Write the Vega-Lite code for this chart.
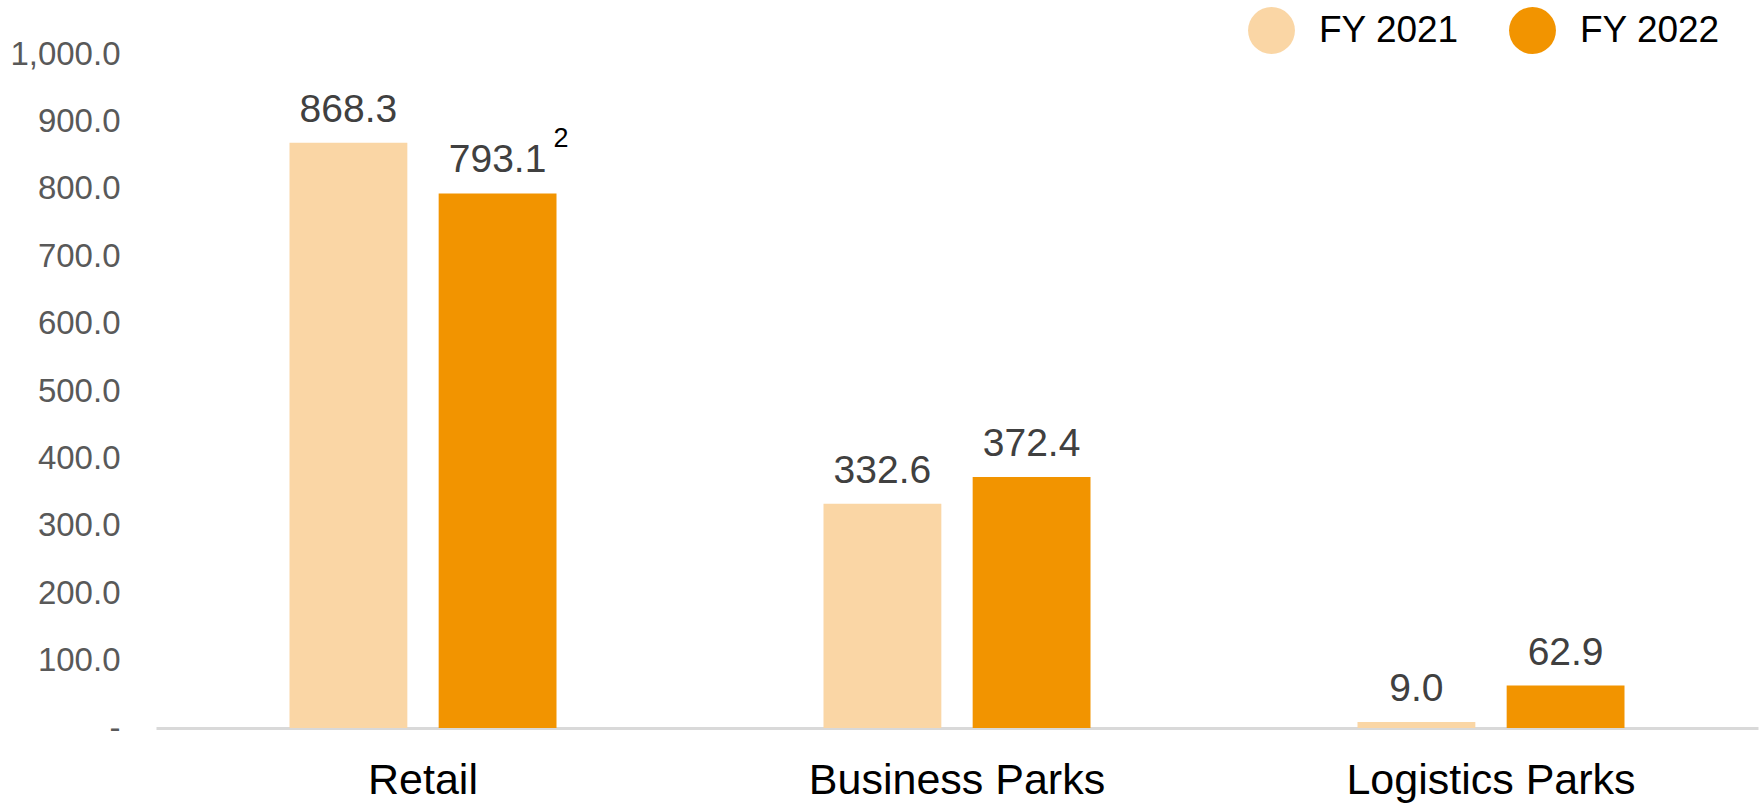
{
  "$schema": "https://vega.github.io/schema/vega-lite/v6.json",
  "width": 1602,
  "height": 674,
  "autosize": {"type": "none"},
  "padding": {"left": 156, "top": 54, "right": 4, "bottom": 75},
  "config": {"view": {"stroke": null}, "font": "Liberation Sans"},
  "data": {
    "values": [
      {"segment": "Retail", "year": "FY 2021", "value": 868.3, "note": ""},
      {"segment": "Retail", "year": "FY 2022", "value": 793.1, "note": "2"},
      {"segment": "Business Parks", "year": "FY 2021", "value": 332.6, "note": ""},
      {"segment": "Business Parks", "year": "FY 2022", "value": 372.4, "note": ""},
      {"segment": "Logistics Parks", "year": "FY 2021", "value": 9.0, "note": ""},
      {"segment": "Logistics Parks", "year": "FY 2022", "value": 62.9, "note": ""}
    ]
  },
  "encoding": {
    "x": {
      "field": "segment",
      "type": "nominal",
      "sort": ["Retail", "Business Parks", "Logistics Parks"],
      "scale": {"paddingInner": 0.5, "paddingOuter": 0.25},
      "axis": {
        "title": null,
        "ticks": false,
        "labelAngle": 0,
        "labelFontSize": 43,
        "labelLimit": 0,
        "labelColor": "#000000",
        "labelPadding": 31,
        "domainColor": "#D9D9D9",
        "domainWidth": 3
      }
    },
    "xOffset": {
      "field": "year",
      "type": "nominal",
      "scale": {"paddingInner": 0.21, "paddingOuter": 0}
    },
    "y": {
      "field": "value",
      "type": "quantitative",
      "scale": {"domain": [0, 1000]},
      "axis": {
        "title": null,
        "domain": false,
        "ticks": false,
        "grid": false,
        "values": [0, 100, 200, 300, 400, 500, 600, 700, 800, 900, 1000],
        "labelExpr": "datum.value == 0 ? '-' : format(datum.value, ',.1f')",
        "labelFontSize": 33,
        "labelColor": "#595959",
        "labelPadding": 36
      }
    }
  },
  "layer": [
    {
      "mark": {"type": "bar"},
      "encoding": {
        "color": {
          "field": "year",
          "type": "nominal",
          "scale": {"domain": ["FY 2021", "FY 2022"], "range": ["#FAD6A5", "#F29400"]},
          "legend": {
            "title": null,
            "orient": "none",
            "legendX": 1092,
            "legendY": -47,
            "direction": "horizontal",
            "symbolType": "circle",
            "symbolSize": 2200,
            "symbolStrokeWidth": 0,
            "labelFontSize": 37,
            "labelColor": "#000000",
            "labelOffset": 24,
            "columnPadding": 50
          }
        }
      }
    },
    {
      "mark": {"type": "text", "baseline": "alphabetic", "dy": -21, "fontSize": 39, "color": "#404040"},
      "encoding": {"text": {"field": "value", "type": "quantitative", "format": ".1f"}}
    },
    {
      "transform": [{"filter": "datum.note != ''"}],
      "mark": {"type": "text", "align": "left", "baseline": "alphabetic", "dx": 56, "dy": -46, "fontSize": 27, "color": "#000000"},
      "encoding": {"text": {"field": "note", "type": "nominal"}}
    }
  ]
}
